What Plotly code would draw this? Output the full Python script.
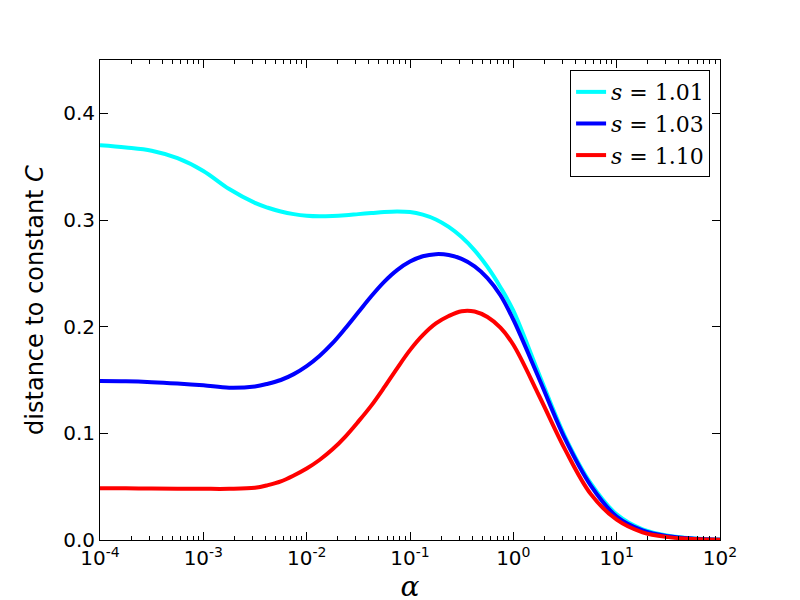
import plotly.graph_objects as go

# alpha grid (quarter decades, eighth decades in the middle)
alpha = [1.0e-4, 1.78e-4, 3.16e-4, 5.62e-4,
         1.0e-3, 1.78e-3, 3.16e-3, 4.22e-3, 5.62e-3, 7.50e-3,
         1.0e-2, 1.33e-2, 1.78e-2, 2.37e-2, 3.16e-2, 4.22e-2, 5.62e-2, 7.50e-2,
         1.0e-1, 1.33e-1, 1.78e-1, 2.37e-1, 3.16e-1, 4.22e-1, 5.62e-1, 7.50e-1,
         1.0, 1.78, 3.16, 5.62,
         10.0, 17.8, 31.6, 56.2, 100.0]

d_101 = [0.370, 0.368, 0.365, 0.358,
         0.346, 0.329, 0.316, 0.3115, 0.308, 0.3055,
         0.304, 0.3035, 0.3038, 0.3045, 0.3055, 0.3065, 0.3075, 0.3080,
         0.3075, 0.3050, 0.3005, 0.2935, 0.2840, 0.2715, 0.2560, 0.2370,
         0.2150, 0.155, 0.097, 0.053,
         0.024, 0.010, 0.004, 0.0015, 0.0004]

d_103 = [0.149, 0.1488, 0.148, 0.1467,
         0.145, 0.1428, 0.1440, 0.1465, 0.1500, 0.1555,
         0.1630, 0.1725, 0.1845, 0.1985, 0.2135, 0.2285, 0.2420, 0.2530,
         0.2610, 0.2660, 0.2680, 0.2672, 0.2635, 0.2565, 0.2455, 0.2295,
         0.2065, 0.151, 0.095, 0.051,
         0.022, 0.009, 0.0035, 0.0012, 0.0003]

d_110 = [0.0484, 0.0484, 0.0483, 0.0481,
         0.0480, 0.0480, 0.0490, 0.0515, 0.0550, 0.0605,
         0.0670, 0.0750, 0.0850, 0.0970, 0.1110, 0.1260, 0.1430, 0.1610,
         0.1780, 0.1920, 0.2030, 0.2100, 0.2145, 0.2142, 0.2090, 0.1990,
         0.1830, 0.135, 0.085, 0.043,
         0.019, 0.0072, 0.0027, 0.0009, 0.0002]

x_tickvals = [1e-4, 1e-3, 1e-2, 1e-1, 1, 10, 100]
x_ticktext = ["10<sup>-4</sup>", "10<sup>-3</sup>", "10<sup>-2</sup>", "10<sup>-1</sup>",
              "10<sup>0</sup>", "10<sup>1</sup>", "10<sup>2</sup>"]
x_minorvals = [m * d for d in x_tickvals[:-1] for m in (2, 3, 4, 5, 6, 7, 8, 9)]

labels = ["<i>s</i> = 1.01", "<i>s</i> = 1.03", "<i>s</i> = 1.10"]
colors = ["#00ffff", "#0000ff", "#ff0000"]
series = [d_101, d_103, d_110]

fig = go.Figure()
for lab, col, ys in zip(labels, colors, series):
    fig.add_trace(go.Scatter(x=alpha, y=ys, mode="lines", name=lab,
                             line=dict(color=col, width=4, shape="spline", smoothing=1.0)))

axis_common = dict(showline=True, linecolor="black", linewidth=1, mirror="ticks",
                   ticks="inside", ticklen=8, tickwidth=1, tickcolor="black",
                   showgrid=False, zeroline=False, automargin=False,
                   tickfont=dict(family="DejaVu Sans", size=20, color="black"))

fig.update_xaxes(type="log", range=[-4, 2], tickmode="array",
                 tickvals=x_tickvals, ticktext=x_ticktext,
                 minor=dict(ticks="inside", ticklen=4, tickcolor="black", showgrid=False,
                            tickmode="array", tickvals=x_minorvals),
                 title=dict(text="<i>α</i>", font=dict(family="DejaVu Serif", size=28, color="black"),
                            standoff=2),
                 **axis_common)
fig.update_yaxes(range=[0, 0.45], tick0=0, dtick=0.1, tickformat=".1f",
                 title=dict(text="distance to constant <i>C</i>",
                            font=dict(family="DejaVu Sans", size=24, color="black"), standoff=12),
                 **axis_common)

fig.update_layout(
    width=800, height=600,
    margin=dict(l=92, r=88, t=52, b=68),
    plot_bgcolor="white", paper_bgcolor="white",
    legend=dict(x=0.984, y=0.979, xanchor="right", yanchor="top",
                bordercolor="black", borderwidth=1, bgcolor="white",
                font=dict(family="DejaVu Serif", size=22, color="black")),
)

fig.write_html("out.html")
